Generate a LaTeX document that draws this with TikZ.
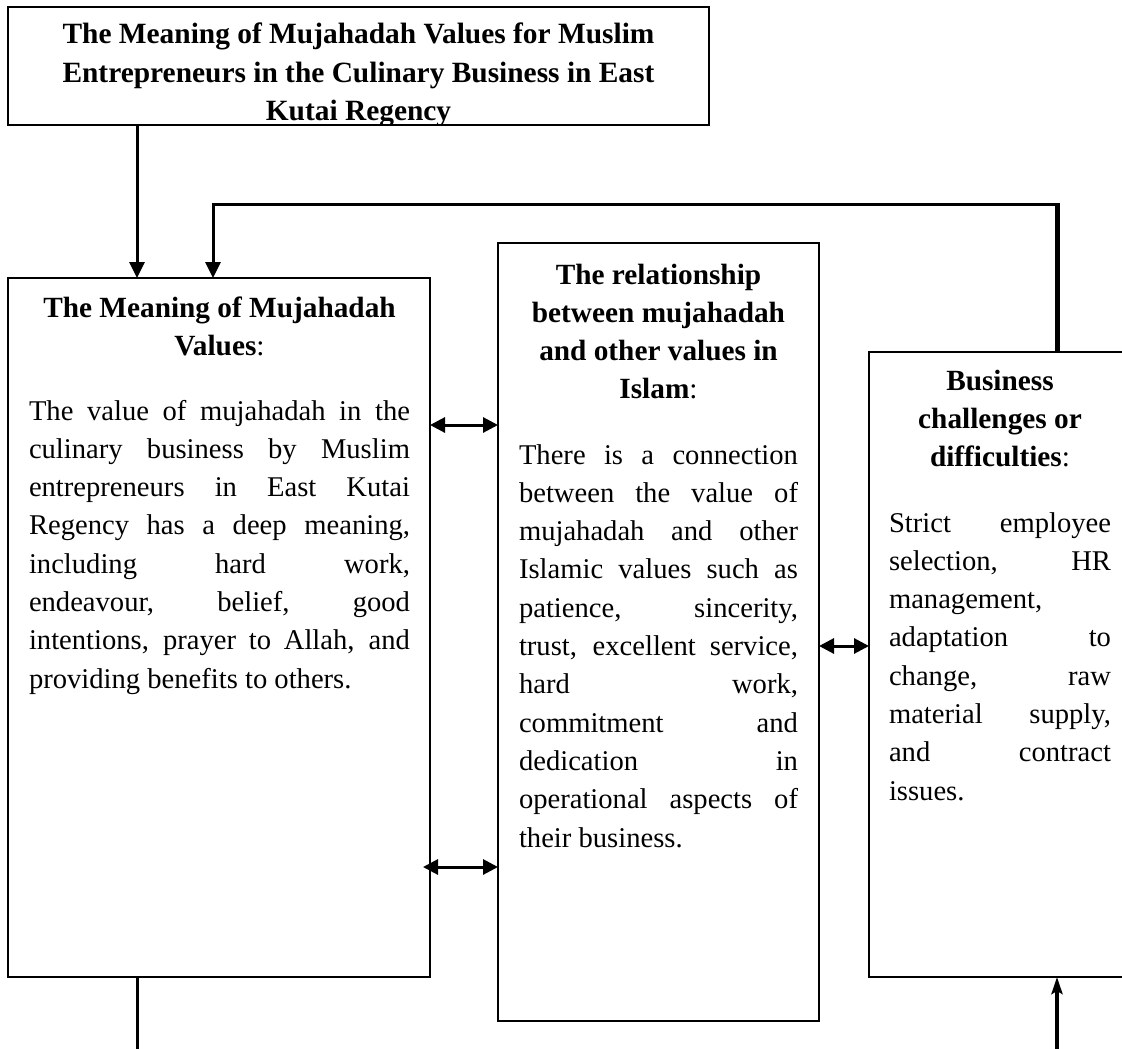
\documentclass[tikz,border=0pt]{standalone}
\usepackage{fontspec}
\setmainfont{Liberation Serif}
\usetikzlibrary{arrows.meta,calc}
\newcommand\jl[1]{\makebox[\linewidth][s]{#1}}
\newcommand\bodyfont{\fontsize{28.6pt}{38.3pt}\selectfont}
\newcommand\headfont{\fontsize{29.3pt}{38.3pt}\selectfont\bfseries}
\begin{document}
\begin{tikzpicture}[x=1pt,y=-1pt,
  box/.style={draw=black, line width=2.5pt, rectangle, inner sep=0pt, outer sep=0pt},
  txt/.style={anchor=base west, inner sep=0pt, outer sep=0pt, text=black},
  conn/.style={draw=black, line width=3pt},
  thickconn/.style={draw=black, line width=5pt},
  dtip/.style={-{Triangle[length=16pt,width=15pt]}},
  ddtip/.style={{Triangle[length=15pt,width=15pt]}-{Triangle[length=15pt,width=15pt]}},
  utip/.style={-{Stealth[length=17pt,width=11pt,inset=3pt]}}]
\useasboundingbox (0,0) rectangle (1122,1049);
\fill[white] (0,0) rectangle (1122,1049);

% boxes
\node[box, minimum width=701pt, minimum height=118pt, anchor=north west] (T) at (8,7) {};
\node[box, minimum width=422pt, minimum height=699pt, anchor=north west] (L) at (8,278) {};
\node[box, minimum width=321pt, minimum height=778pt, anchor=north west] (M) at (498,243) {};
\node[box, minimum width=262pt, minimum height=625pt, anchor=north west] (R) at (869,352) {};

% title text (clipped by its box)
\begin{scope}
\clip (9.25,8.25) rectangle (707.75,123.75);
\node[txt] (Tt) at (8.5,44) {\begin{minipage}[t]{700pt}\centering\fontsize{29.4pt}{38.5pt}\selectfont\bfseries
The Meaning of Mujahadah Values for Muslim\\
Entrepreneurs in the Culinary Business in East\\
Kutai Regency\end{minipage}};
\end{scope}

% left box
\node[txt] (Lh) at (29,317) {\begin{minipage}[t]{381pt}\centering\headfont
The Meaning of Mujahadah\\
Values{\mdseries:}\end{minipage}};
\node[txt] (Lb) at (29,420) {\begin{minipage}[t]{381pt}\bodyfont
\jl{The value of mujahadah in the}\\
\jl{culinary business by Muslim}\\
\jl{entrepreneurs in East Kutai}\\
\jl{Regency has a deep meaning,}\\
\jl{including hard work,}\\
\jl{endeavour, belief, good}\\
\jl{intentions, prayer to Allah, and}\\
providing benefits to others.\end{minipage}};

% middle box
\node[txt] (Mh) at (519,284) {\begin{minipage}[t]{279pt}\centering\headfont
The relationship\\
between mujahadah\\
and other values in\\
Islam{\mdseries:}\end{minipage}};
\node[txt] (Mb) at (519,464) {\begin{minipage}[t]{279pt}\bodyfont
\jl{There is a connection}\\
\jl{between the value of}\\
\jl{mujahadah and other}\\
\jl{Islamic values such as}\\
\jl{patience, sincerity,}\\
\jl{trust, excellent service,}\\
\jl{hard work,}\\
\jl{commitment and}\\
\jl{dedication in}\\
\jl{operational aspects of}\\
their business.\end{minipage}};

% right box
\node[txt] (Rh) at (889,390) {\begin{minipage}[t]{222pt}\centering\headfont
Business\\
challenges or\\
difficulties{\mdseries:}\end{minipage}};
\node[txt] (Rb) at (889,532) {\begin{minipage}[t]{222pt}\bodyfont
\jl{Strict employee}\\
\jl{selection, HR}\\
management,\\
\jl{adaptation to}\\
\jl{change, raw}\\
\jl{material supply,}\\
\jl{and contract}\\
issues.\end{minipage}};

% helper coordinates
\coordinate (xa) at (137,0);
\coordinate (xb) at (213,0);
\coordinate (xr) at (1057,0);
\coordinate (ytop) at (0,204);
\coordinate (y1) at (0,425);
\coordinate (y2) at (0,646);
\coordinate (y3) at (0,867);
\coordinate (l3) at (423,867);
\coordinate (bl) at (137,1056);
\coordinate (br) at (1057,1056);
\coordinate (c1) at (xr |- ytop);
\coordinate (c2) at (xb |- ytop);

% connectors
\draw[conn, dtip] (xa |- T.south) -- (xa |- L.north);
\draw[thickconn] (xr |- R.north) -- ([yshift=-1.5pt]c1);
\draw[conn, dtip] ([xshift=2.5pt]c1) -- (c2) -- (xb |- L.north);
\draw[conn, ddtip] (L.east |- y1) -- (M.west |- y1);
\draw[conn, ddtip] (M.east |- y2) -- (R.west |- y2);
\draw[conn, ddtip] (l3) -- (M.west |- y3);
\draw[conn] (xa |- L.south) -- (bl);
\draw[line width=4pt, utip] (br) -- (xr |- R.south);
\end{tikzpicture}
\end{document}
